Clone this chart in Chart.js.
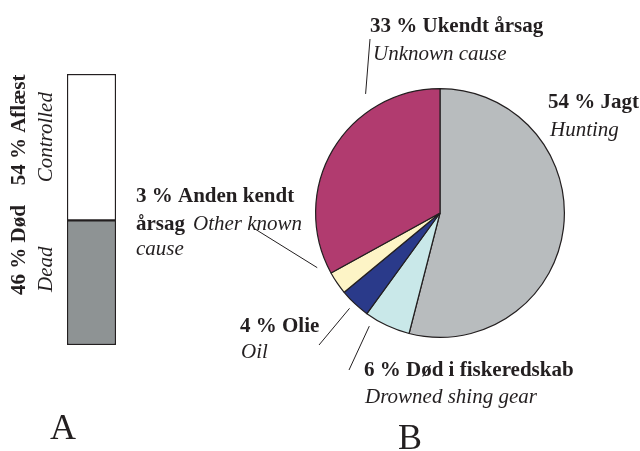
<!DOCTYPE html>
<html>
<head>
<meta charset="utf-8">
<script src="https://cdn.jsdelivr.net/npm/chart.js@4"></script>
<style>
  html, body { margin: 0; padding: 0; background: #fff; }
  #wrap { position: relative; width: 640px; height: 451px; }
  #wrap canvas { position: absolute; left: 0; top: 0; }
</style>
</head>
<body>
<div id="wrap">
  <canvas id="bar" width="640" height="451"></canvas>
  <canvas id="pie" width="640" height="451"></canvas>
</div>
<script>
// --- data ---
const barLabels = ['A'];
const barSeries = ['46 % Død', '54 % Aflæst'];
const barSeriesEn = ['Dead', 'Controlled'];
const barValues = [46, 54];
const barColors = ['#8e9394', '#ffffff'];

const pieLabels = ['54 % Jagt', '6 % Død i fiskeredskab', '4 % Olie', '3 % Anden kendt årsag', '33 % Ukendt årsag'];
const pieLabelsEn = ['Hunting', 'Drowned shing gear', 'Oil', 'Other known cause', 'Unknown cause'];
const pieValues = [54, 6, 4, 3, 33];
const pieColors = ['#b8bcbe', '#c9e8e9', '#2a3a8a', '#fdf4c6', '#b13b6f'];

const ink = '#231f20';
const serif = '"Liberation Serif", "DejaVu Serif", serif';
const fs = 21;

Chart.defaults.animation = false;
Chart.defaults.responsive = false;

// left: stacked bar A
const barText = {
  id: 'barText',
  afterDraw(chart) {
    const ctx = chart.ctx;
    const y = chart.scales.y;
    ctx.save();
    ctx.fillStyle = ink;
    // rotated labels, start near the lower edge of each segment
    const starts = [y.getPixelForValue(0) - 50, y.getPixelForValue(barValues[0]) - 35];
    barSeries.forEach((lab, i) => {
      ctx.save();
      ctx.translate(25, starts[i]);
      ctx.rotate(-Math.PI / 2);
      ctx.textAlign = 'left';
      ctx.textBaseline = 'alphabetic';
      ctx.font = 'bold ' + fs + 'px ' + serif;
      ctx.fillText(lab, 0, 0);
      ctx.font = 'italic ' + fs + 'px ' + serif;
      ctx.fillText(barSeriesEn[i], 3, 27);
      ctx.restore();
    });
    ctx.font = '36px ' + serif;
    ctx.fillText(barLabels[0], 50, 439);
    ctx.restore();
  }
};

new Chart(document.getElementById('bar'), {
  type: 'bar',
  data: {
    labels: barLabels,
    datasets: barSeries.map((s, i) => ({
      label: s,
      data: [barValues[i]],
      backgroundColor: barColors[i],
      borderColor: ink,
      borderWidth: 1.5,
      borderSkipped: false,
      barPercentage: 1,
      categoryPercentage: 1
    }))
  },
  options: {
    layout: { padding: { left: 67, right: 524, top: 74, bottom: 106 } },
    plugins: { legend: { display: false }, tooltip: { enabled: false } },
    scales: {
      x: { stacked: true, display: false },
      y: { stacked: true, display: false, min: 0, max: 100 }
    }
  },
  plugins: [barText]
});

// right: pie B
// label placement: text lines, leader line (angle from top in degrees, offset beyond radius, end point)
const pieText = [
  { lines: [['54 % Jagt', 'b', 548, 108], ['Hunting', 'i', 550, 136]] },
  { lines: [['6 % Død i fiskeredskab', 'b', 364, 376], ['Drowned shing gear', 'i', 365, 403]],
    lead: { ang: 212, off: 9, to: [349, 370] } },
  { lines: [['4 % Olie', 'b', 240, 332], ['Oil', 'i', 241, 358]],
    lead: { ang: 223.5, off: 7, to: [319, 345] } },
  { lines: [['3 % Anden kendt', 'b', 136, 202], ['årsag', 'b', 136, 230], ['Other known', 'i', 193, 230], ['cause', 'i', 136, 255]],
    lead: { ang: 246, off: 10, to: [255, 229] } },
  { lines: [['33 % Ukendt årsag', 'b', 370, 32], ['Unknown cause', 'i', 373, 60]],
    lead: { ang: 328, off: 16, to: [370, 39] } }
];

const pieLabelPlugin = {
  id: 'pieLabels',
  afterDraw(chart) {
    const ctx = chart.ctx;
    const arc = chart.getDatasetMeta(0).data[0];
    const cx = arc.x, cy = arc.y, r = arc.outerRadius;
    ctx.save();
    ctx.fillStyle = ink;
    ctx.strokeStyle = ink;
    ctx.lineWidth = 1;
    pieText.forEach(p => {
      p.lines.forEach(([t, w, x, y]) => {
        ctx.font = (w === 'b' ? 'bold ' : 'italic ') + fs + 'px ' + serif;
        ctx.fillText(t, x, y);
      });
      if (p.lead) {
        const a = p.lead.ang * Math.PI / 180;
        const rr = r + p.lead.off;
        ctx.beginPath();
        ctx.moveTo(cx + rr * Math.sin(a), cy - rr * Math.cos(a));
        ctx.lineTo(p.lead.to[0], p.lead.to[1]);
        ctx.stroke();
      }
    });
    ctx.font = '36px ' + serif;
    ctx.fillText('B', 398, 449);
    ctx.restore();
  }
};

new Chart(document.getElementById('pie'), {
  type: 'pie',
  data: {
    labels: pieLabels,
    datasets: [{
      data: pieValues,
      backgroundColor: pieColors,
      borderColor: ink,
      borderWidth: 1.2
    }]
  },
  options: {
    layout: { padding: { left: 315, right: 75, top: 88, bottom: 113 } },
    plugins: { legend: { display: false }, tooltip: { enabled: false } }
  },
  plugins: [pieLabelPlugin]
});
</script>
</body>
</html>
